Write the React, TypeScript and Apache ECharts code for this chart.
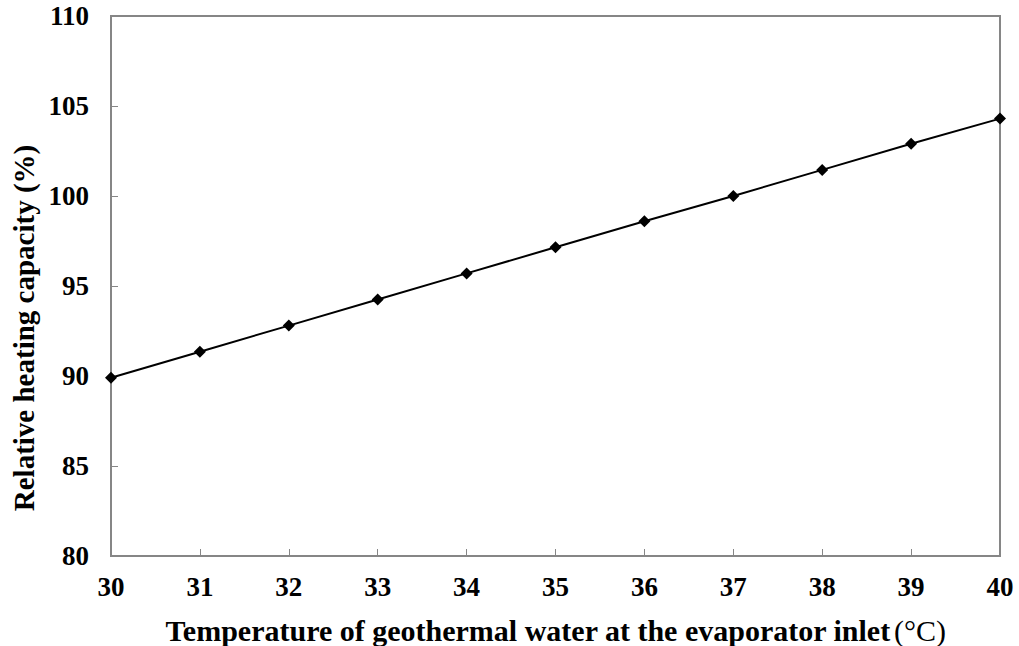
import React, { useEffect, useRef } from "react";
import * as echarts from "echarts";

const temperatures = [30, 31, 32, 33, 34, 35, 36, 37, 38, 39, 40];
const relativeCapacity = [89.9, 91.35, 92.8, 94.25, 95.7, 97.15, 98.6, 100.0, 101.45, 102.9, 104.3];
const xTitle = "Temperature of geothermal water at the evaporator inlet";
const xUnit = "(°C)";
const yTitle = "Relative heating capacity (%)";

const FONT = "'Liberation Serif', 'Times New Roman', serif";
const AXIS_GRAY = "#868686";

export default function App() {
  const ref = useRef<HTMLDivElement>(null);
  useEffect(() => {
    if (!ref.current) return;
    const chart = echarts.init(ref.current, undefined, { renderer: "svg" });
    chart.setOption({
      animation: false,
      backgroundColor: "#fff",
      grid: {
        left: 111, right: 19, top: 16, bottom: 90,
        outerBoundsMode: "none",
        containLabel: false,
        show: true, borderColor: AXIS_GRAY, borderWidth: 2, backgroundColor: "transparent",
      },
      graphic: [
        {
          type: "text",
          x: 24,
          y: 328,
          rotation: Math.PI / 2,
          style: {
            text: yTitle,
            fontFamily: FONT,
            fontWeight: "bold",
            fontSize: 29,
            fill: "#000",
            align: "center",
            verticalAlign: "middle",
          },
        },
      ],
      xAxis: {
        type: "value",
        min: 30,
        max: 40,
        interval: 1,
        name: `{b|${xTitle}} {n|${xUnit}}`,
        nameLocation: "middle",
        nameGap: 59,
        nameTextStyle: {
          rich: {
            b: { fontFamily: FONT, fontWeight: "bold", fontSize: 30, color: "#000" },
            n: { fontFamily: FONT, fontWeight: "normal", fontSize: 30, color: "#000" },
          },
        },
        axisLine: { show: true, lineStyle: { color: AXIS_GRAY, width: 2 } },
        axisTick: { show: true, inside: true, length: 7, lineStyle: { color: AXIS_GRAY, width: 1 } },
        axisLabel: { margin: 17, fontFamily: FONT, fontWeight: "bold", fontSize: 27, color: "#000" },
        splitLine: { show: false },
      },
      yAxis: {
        type: "value",
        min: 80,
        max: 110,
        interval: 5,
        axisLine: { show: true, lineStyle: { color: AXIS_GRAY, width: 2 } },
        axisTick: { show: true, inside: true, length: 7, lineStyle: { color: AXIS_GRAY, width: 1 } },
        axisLabel: { margin: 22, fontFamily: FONT, fontWeight: "bold", fontSize: 27, color: "#000" },
        splitLine: { show: false },
      },
      series: [
        {
          type: "line",
          data: temperatures.map((t, i) => [t, relativeCapacity[i]]),
          symbol: "diamond",
          symbolSize: 12,
          lineStyle: { color: "#000", width: 2 },
          itemStyle: { color: "#000" },
        },
      ],
    });
    return () => chart.dispose();
  }, []);
  return <div ref={ref} style={{ width: 1019, height: 646, position: "absolute", left: 0, top: 0 }} />;
}
